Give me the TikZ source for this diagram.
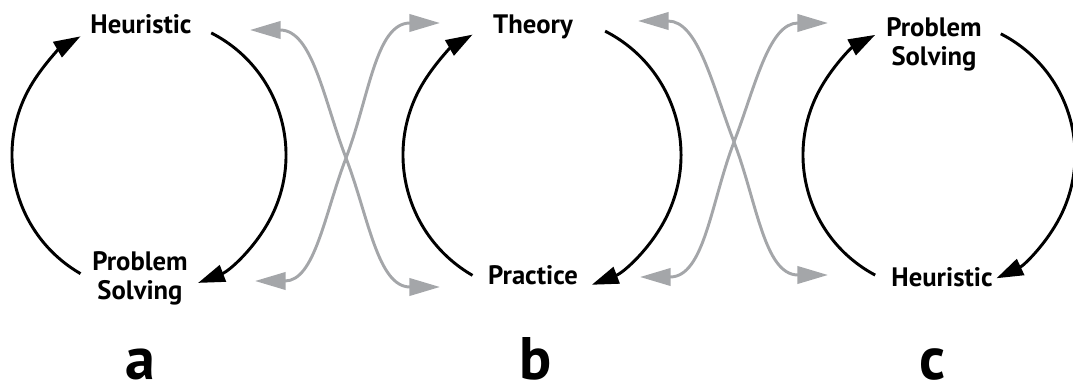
\documentclass[tikz,border=0pt]{standalone}
\usepackage{fontspec}
\setmainfont{PT Sans}
\usetikzlibrary{arrows.meta,calc}

\definecolor{crossgray}{HTML}{A4A6A9}

\begin{document}
\begin{tikzpicture}[
  x=0.75pt, y=0.75pt,
  font=\bfseries\fontsize{20}{22}\selectfont,
  lbl/.style={inner sep=0pt, align=center},
  panel/.style={inner sep=0pt, anchor=base, font=\bfseries\fontsize{45}{45}\selectfont},
  cycarrow/.style={draw=black, line width=2.2pt, -{Triangle[length=20pt, width=13pt]}},
  crossarrow/.style={draw=crossgray, line width=2.2pt, {Triangle[length=23pt, width=13pt]}-{Triangle[length=23pt, width=13pt]}},
]
  \useasboundingbox (0,0) rectangle (1073,389);

  % circle centres
  \coordinate (ca) at (149,234);
  \coordinate (cb) at (542,234);
  \coordinate (cc) at (939,234);

  % labels
  \node[lbl, anchor=base] (heurA) at (141,355) {Heuristic};
  \node[lbl, anchor=north] (probA) at (140,138) {Problem\\Solving};
  \node[lbl, anchor=base] (theory) at (533,355) {Theory};
  \node[lbl, anchor=base] (practice) at (533,104) {Practice};
  \node[lbl, anchor=north] (probC) at (934,372) {Problem\\Solving};
  \node[lbl, anchor=base] (heurC) at (942,103) {Heuristic};

  \node[panel] (pa) at (140,10) {a};
  \node[panel] (pb) at (536,10) {b};
  \node[panel] (pc) at (932,10) {c};

  % cycles
  \draw[cycarrow] ($(ca)+(63:137)$) arc[start angle=63, end angle=-69, radius=137];
  \draw[cycarrow] ($(ca)+(240:137)$) arc[start angle=240, end angle=120, radius=137];
  \draw[cycarrow] ($(cb)+(63:139)$) arc[start angle=63, end angle=-69, radius=139];
  \draw[cycarrow] ($(cb)+(240:139)$) arc[start angle=240, end angle=120, radius=139];
  \draw[cycarrow] ($(cc)+(63:136)$) arc[start angle=63, end angle=-65, radius=136];
  \draw[cycarrow] ($(cc)+(242:136)$) arc[start angle=242, end angle=118, radius=136];

  % crossing links
  \coordinate (abTL) at (250,359);
  \coordinate (abTR) at (440,366);
  \coordinate (abBL) at (255,108);
  \coordinate (abBR) at (440,102);
  \coordinate (xab) at (346,231);
  \draw[crossarrow] (abTL) to[out=0, in=111] (xab) to[out=-69, in=180] (abBR);
  \draw[crossarrow] (abBL) to[out=0, in=-111] (xab) to[out=69, in=180] (abTR);

  \coordinate (bcTL) at (638,368);
  \coordinate (bcTR) at (828,366);
  \coordinate (bcBL) at (640,112);
  \coordinate (bcBR) at (828,114);
  \coordinate (xbc) at (734,247);
  \draw[crossarrow] (bcTL) to[out=0, in=111] (xbc) to[out=-69, in=180] (bcBR);
  \draw[crossarrow] (bcBL) to[out=0, in=-111] (xbc) to[out=69, in=180] (bcTR);
\end{tikzpicture}
\end{document}
